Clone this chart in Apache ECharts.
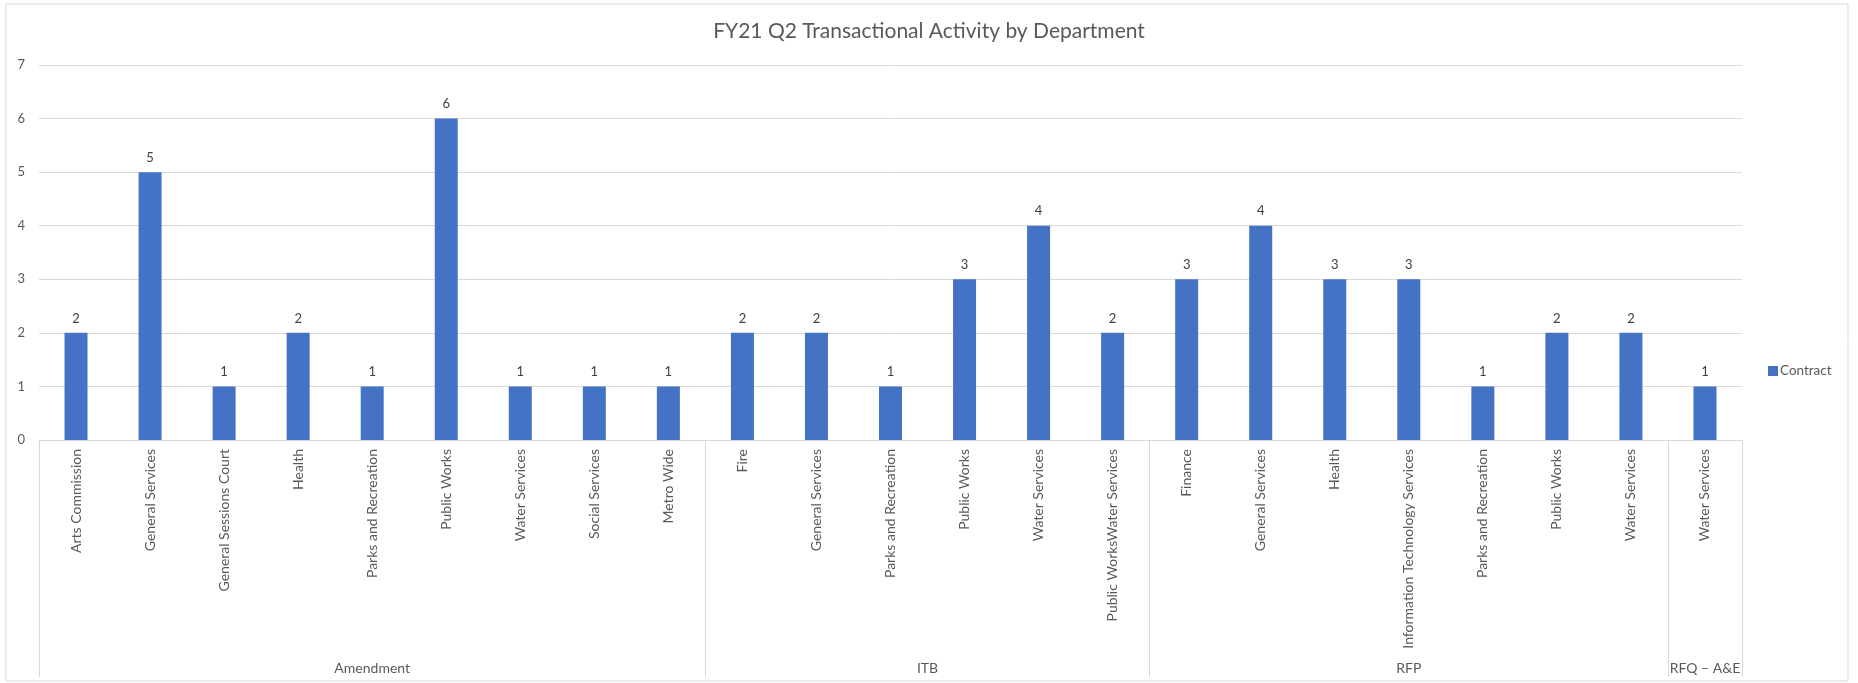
<!DOCTYPE html>
<html>
<head>
<meta charset="utf-8">
<script src="https://cdn.jsdelivr.net/npm/echarts@6/dist/echarts.min.js"></script>
<style>
html,body{margin:0;padding:0;background:#fff;}
#chart{width:1858px;height:683px;}
</style>
</head>
<body>
<div id="chart"></div>
<script>
const departments = [
  'Arts Commission','General Services','General Sessions Court','Health','Parks and Recreation','Public Works','Water Services','Social Services','Metro Wide',
  'Fire','General Services','Parks and Recreation','Public Works','Water Services','Public WorksWater Services',
  'Finance','General Services','Health','Information Technology Services','Parks and Recreation','Public Works','Water Services',
  'Water Services'
];
const contractValues = [2,5,1,2,1,6,1,1,1, 2,2,1,3,4,2, 3,4,3,3,1,2,2, 1];
const groupNames = ['Amendment','ITB','RFP','RFQ \u2013 A&E'];
const groupSizes = [9,6,7,1];
const yTicks = [0,1,2,3,4,5,6,7];

// group boundaries and centres in category units
const bounds = [0];
groupSizes.forEach(s => bounds.push(bounds[bounds.length-1] + s));
const centres = groupSizes.map((s,i) => bounds[i] + s/2);
const centreLabel = {};
centres.forEach((c,i) => centreLabel[c] = groupNames[i]);

const FONT = 'Lato';
const chart = echarts.init(document.getElementById('chart'));
chart.setOption({
  animation: false,
  textStyle: {fontFamily: FONT},
  title: {
    text: 'FY21 Q2 Transactional Activity by Department',
    left: 'center', top: 16,
    textStyle: {fontFamily: FONT, fontSize: 21, fontWeight: 'normal', color: '#595959'}
  },
  legend: {
    data: ['Contract'],
    orient: 'vertical',
    left: 1763, top: 359,
    icon: 'rect', itemWidth: 10, itemHeight: 10, itemGap: 4,
    textStyle: {fontFamily: FONT, fontSize: 13.5, color: '#595959', padding: [0,0,0,-3]}
  },
  graphic: [{
    type: 'rect', shape: {x: 6, y: 4, width: 1842, height: 677},
    style: {fill: 'none', stroke: '#d9d9d9', lineWidth: 1}, silent: true, z: -1
  }],
  grid: {left: 39, right: 116, top: 65, bottom: 243, containLabel: false},
  xAxis: [{
    type: 'category',
    data: departments,
    axisLine: {lineStyle: {color: '#d9d9d9', width: 1}},
    axisTick: {show: false},
    axisLabel: {interval: 0, rotate: 90, margin: 9, color: '#595959', fontFamily: FONT, fontSize: 14}
  }, {
    type: 'value',
    position: 'bottom',
    min: 0, max: departments.length,
    axisLine: {show: false},
    splitLine: {show: false},
    axisTick: {show: true, customValues: bounds, length: 237, inside: false, lineStyle: {color: '#d9d9d9'}},
    axisLabel: {
      customValues: centres, margin: 221, color: '#595959', fontFamily: FONT, fontSize: 14,
      formatter: v => centreLabel[v] || ''
    }
  }],
  yAxis: {
    type: 'value', min: yTicks[0], max: yTicks[yTicks.length-1], interval: 1,
    axisLine: {show: false}, axisTick: {show: false},
    splitLine: {lineStyle: {color: '#d9d9d9', width: 1}},
    axisLabel: {color: '#595959', fontFamily: FONT, fontSize: 13, margin: 14}
  },
  series: [{
    name: 'Contract',
    type: 'bar',
    xAxisIndex: 0,
    data: contractValues,
    barWidth: 23,
    itemStyle: {color: '#4472C4'},
    label: {show: true, position: 'top', distance: 8, color: '#404040', fontFamily: FONT, fontSize: 13}
  }]
});
</script>
</body>
</html>
